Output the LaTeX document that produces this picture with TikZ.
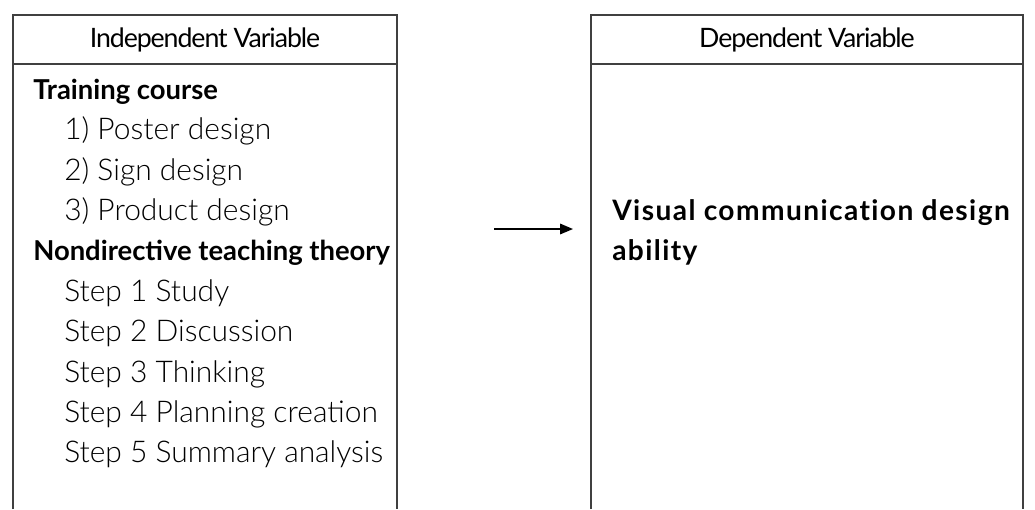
\documentclass[tikz,border=0pt]{standalone}
\usepackage{fontspec}
\setmainfont{Lato}
\newfontfamily\thinfont{Lato Light}
\newfontfamily\tightfont{Lato}[LetterSpace=-4]
\newfontfamily\widefont{Lato}[LetterSpace=5, Ligatures=NoCommon]
\usetikzlibrary{arrows.meta,positioning}

\begin{document}
\begin{tikzpicture}[x=0.025cm, y=-0.025cm,
        frame/.style={draw=black!75, line width=0.9pt},
        head/.style={font=\fontsize{19}{23}\selectfont\tightfont, anchor=base, inner sep=0pt},
        group/.style={font=\fontsize{19.5}{23}\selectfont\bfseries, anchor=base west, inner sep=0pt},
        item/.style={font=\fontsize{21.3}{25}\selectfont\thinfont, anchor=base west, inner sep=0pt},
        result/.style={font=\fontsize{20}{24}\selectfont\widefont\bfseries, anchor=base west, inner sep=0pt},
        flow/.style={line width=1.2pt, -{Triangle[length=3.2mm, width=2.6mm]}}
      ]
        \useasboundingbox (0,0) rectangle (1035,509);

        % linke Box
        \draw[frame] (13,509) -- (13,15) -- (397,15) -- (397,509);
        \draw[frame] (13,64) -- (397,64);
        \node[head] (indep) at (205,47) {Independent Variable};

        \node[group] (course) at (33,99) {Training course};
        \node[item] (poster) at (64,139.5) {1) Poster design};
        \node[item] (sign) at (64,180) {2) Sign design};
        \node[item] (product) at (64,220) {3) Product design};

        \node[group] (theory) at (33,260.5) {Nondirective teaching theory};
        \node[item] (step1) at (64,301) {Step 1 Study};
        \node[item] (step2) at (64,341) {Step 2 Discussion};
        \node[item] (step3) at (64,382) {Step 3 Thinking};
        \node[item] (step4) at (64,422) {Step 4 Planning creation};
        \node[item] (step5) at (64,462) {Step 5 Summary analysis};

        % rechte Box
        \draw[frame] (591,509) -- (591,15) -- (1023,15) -- (1023,509);
        \draw[frame] (591,64) -- (1023,64);
        \node[head] (dep) at (807,47) {Dependent Variable};

        \node[result] (ability1) at (612,220) {Visual communication design};
        \node[result] (ability2) at (612,260.5) {ability};

        % Pfeil
        \coordinate (from) at (494,229);
        \coordinate (to) at (573,229);
        \draw[flow] (from) -- (to);
      \end{tikzpicture}
\end{document}
